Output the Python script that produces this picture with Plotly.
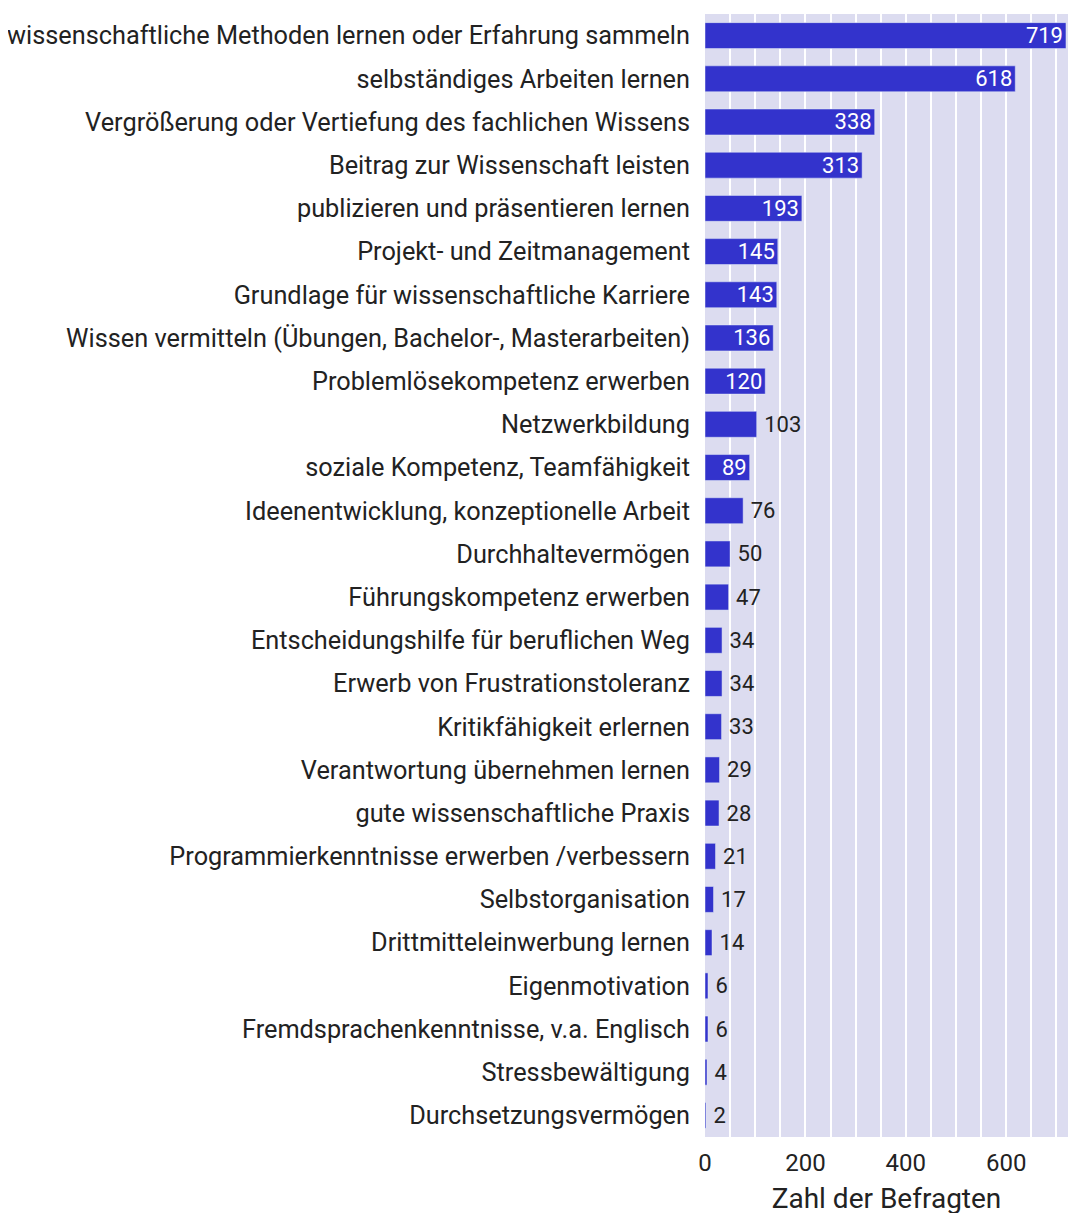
import plotly.graph_objects as go

categories = [
    "wissenschaftliche Methoden lernen oder Erfahrung sammeln",
    "selbständiges Arbeiten lernen",
    "Vergrößerung oder Vertiefung des fachlichen Wissens",
    "Beitrag zur Wissenschaft leisten",
    "publizieren und präsentieren lernen",
    "Projekt- und Zeitmanagement",
    "Grundlage für wissenschaftliche Karriere",
    "Wissen vermitteln (Übungen, Bachelor-, Masterarbeiten)",
    "Problemlösekompetenz erwerben",
    "Netzwerkbildung",
    "soziale Kompetenz, Teamfähigkeit",
    "Ideenentwicklung, konzeptionelle Arbeit",
    "Durchhaltevermögen",
    "Führungskompetenz erwerben",
    "Entscheidungshilfe für beruflichen Weg",
    "Erwerb von Frustrationstoleranz",
    "Kritikfähigkeit erlernen",
    "Verantwortung übernehmen lernen",
    "gute wissenschaftliche Praxis",
    "Programmierkenntnisse erwerben /verbessern",
    "Selbstorganisation",
    "Drittmitteleinwerbung lernen",
    "Eigenmotivation",
    "Fremdsprachenkenntnisse, v.a. Englisch",
    "Stressbewältigung",
    "Durchsetzungsvermögen",
]
counts = [719, 618, 338, 313, 193, 145, 143, 136, 120, 103, 89, 76, 50, 47,
          34, 34, 33, 29, 28, 21, 17, 14, 6, 6, 4, 2]

inside_labels = {"719", "618", "338", "313", "193", "145", "143", "136", "120", "89"}
positions = ["inside" if str(v) in inside_labels else "outside" for v in counts]
labels = [str(v) if p == "inside" else "\u2009" + str(v) for v, p in zip(counts, positions)]
text_colors = ["white" if p == "inside" else "#222222" for p in positions]

fig = go.Figure(go.Bar(
    y=categories,
    x=counts,
    orientation="h",
    marker_color="#3333cc",
    text=labels,
    textposition=positions,
    insidetextanchor="end",
    textangle=0,
    constraintext="none",
    textfont=dict(family="Roboto", size=22, color=text_colors),
    cliponaxis=False,
))

# page body adds an 8px margin, so the figure is offset by 8px
fig.update_layout(
    width=1060, height=1207,
    margin=dict(l=697, r=0, t=6, b=78, autoexpand=False),
    plot_bgcolor="#dcdcf0",
    paper_bgcolor="white",
    bargap=0.4,
    font=dict(family="Roboto", color="#222222"),
    showlegend=False,
)
fig.update_yaxes(
    autorange="reversed",
    tickfont=dict(size=25.3),
    ticklabelstandoff=14,
    showgrid=False,
)
fig.update_xaxes(
    range=[0, 723],
    tickvals=[0, 200, 400, 600],
    tickfont=dict(size=24),
    ticklabelstandoff=9,
    showgrid=True, gridcolor="white", gridwidth=2,
    minor=dict(dtick=50, showgrid=True, gridcolor="white", gridwidth=2),
    zeroline=False,
    title=dict(text="Zahl der Befragten", font=dict(size=28), standoff=22),
)

fig.write_html("out.html")
